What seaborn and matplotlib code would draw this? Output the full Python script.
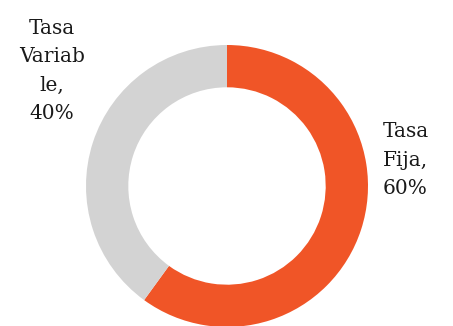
import matplotlib
matplotlib.use("Agg")
import matplotlib.pyplot as plt
import seaborn as sns

# datos del grafico
categorias = ["Tasa\nFija,\n60%", "Tasa\nVariab\nle,\n40%"]
valores = [60, 40]
colores = ["#F05527", "#D3D3D3"]

sns.set_theme(style="white")
plt.rcParams["font.family"] = ["DejaVu Serif"]

fig = plt.figure(figsize=(4.53, 3.26), dpi=100)
ax = fig.add_axes([0, 0, 1, 1])

ax.pie(valores, colors=colores, startangle=90, counterclock=False,
       radius=1.0, wedgeprops=dict(width=0.30, edgecolor="none"))

# etiquetas como en Excel (texto partido en lineas)
ax.text(1.106, 0.184, categorias[0], ha="left", va="center",
        fontsize=14.5, color="#1a1a1a", linespacing=1.62)
ax.text(-1.241, 0.816, categorias[1], ha="center", va="center",
        fontsize=14.5, color="#1a1a1a", linespacing=1.62, multialignment="center")

ax.set_aspect("auto")
ax.set_xlim(-227 / 141, (453 - 227) / 141)
ax.set_ylim(-140 / 141, (326 - 140) / 141)
ax.axis("off")

fig.savefig("out.png", dpi=100, facecolor="white")
